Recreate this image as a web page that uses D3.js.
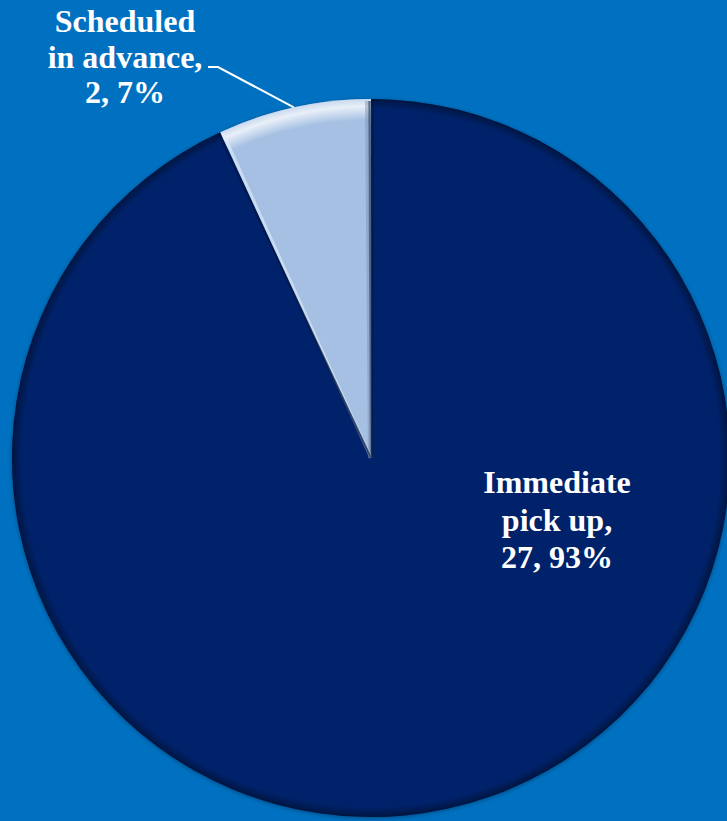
<!DOCTYPE html>
<html>
<head>
<meta charset="utf-8">
<script src="https://cdn.jsdelivr.net/npm/d3@7"></script>
<style>
  html, body { margin: 0; padding: 0; background: #0070C0; }
  svg { display: block; }
</style>
</head>
<body>
<svg id="chart" width="727" height="821"></svg>
<script>
// ---- data ----
const categories = ["Immediate pick up", "Scheduled in advance"];
const values = [27, 2];
const percents = ["93%", "7%"];
const labelLines = [
  ["Immediate", "pick up,", "27, 93%"],
  ["Scheduled", "in advance,", "2, 7%"]
];
const sliceColors = ["#03236A", "#A5C0E3"];

// ---- layout ----
const W = 727, H = 821;
const cx = 371, cy = 458, R = 359;

const svg = d3.select("#chart");
svg.append("rect").attr("width", W).attr("height", H).attr("fill", "#0070C0");

const defs = svg.append("defs");

// rim shading (darker near outer edge)
const rimDark = defs.append("radialGradient").attr("id", "rimDark")
  .attr("cx", 0).attr("cy", 0).attr("r", R).attr("gradientUnits", "userSpaceOnUse");
rimDark.append("stop").attr("offset", 0.972).attr("stop-color", "#000").attr("stop-opacity", 0);
rimDark.append("stop").attr("offset", 0.993).attr("stop-color", "#000").attr("stop-opacity", 0.28);
rimDark.append("stop").attr("offset", 1).attr("stop-color", "#000").attr("stop-opacity", 0.45);

// rim highlight for light slice
const rimLight = defs.append("radialGradient").attr("id", "rimLight")
  .attr("cx", 0).attr("cy", 0).attr("r", R).attr("gradientUnits", "userSpaceOnUse");
rimLight.append("stop").attr("offset", 0.94).attr("stop-color", "#fff").attr("stop-opacity", 0);
rimLight.append("stop").attr("offset", 0.98).attr("stop-color", "#fff").attr("stop-opacity", 0.75);
rimLight.append("stop").attr("offset", 1).attr("stop-color", "#fff").attr("stop-opacity", 0.4);

const shadow = defs.append("filter").attr("id", "shadow")
  .attr("x", "-10%").attr("y", "-10%").attr("width", "120%").attr("height", "120%");
shadow.append("feGaussianBlur").attr("in", "SourceAlpha").attr("stdDeviation", 2).attr("result", "b");
shadow.append("feOffset").attr("in", "b").attr("dx", 0).attr("dy", 1).attr("result", "o");
shadow.append("feComponentTransfer").attr("in", "o").attr("result", "s")
  .append("feFuncA").attr("type", "linear").attr("slope", 0.35);
const mg = shadow.append("feMerge");
mg.append("feMergeNode").attr("in", "s");
mg.append("feMergeNode").attr("in", "SourceGraphic");

const pie = d3.pie().sort(null).value(d => d)(values);
const arc = d3.arc().innerRadius(0).outerRadius(R);

const g = svg.append("g").attr("transform", `translate(${cx},${cy})`);

const slices = g.append("g").attr("filter", "url(#shadow)");
slices.selectAll("path.slice").data(pie).join("path")
  .attr("class", "slice")
  .attr("d", arc)
  .attr("fill", (d, i) => sliceColors[i]);

// rim shading overlay
g.selectAll("path.rimd").data(pie).join("path")
  .attr("class", "rimd")
  .attr("d", arc)
  .attr("fill", (d, i) => i === 0 ? "url(#rimDark)" : "url(#rimLight)");

// bevel edges along radial sides of light slice
const light = pie[1];
function edgePoint(angle, r) {
  return [r * Math.sin(angle), -r * Math.cos(angle)];
}
const eEnd = edgePoint(light.endAngle, R - 2);
g.append("line").attr("x1", 0).attr("y1", 0).attr("x2", eEnd[0] - 1.5).attr("y2", eEnd[1])
  .attr("stroke", "#3b4d6e").attr("stroke-width", 2.5).attr("stroke-opacity", 0.8);
g.append("line").attr("x1", -1.5).attr("y1", 0).attr("x2", eEnd[0] - 4.5).attr("y2", eEnd[1])
  .attr("stroke", "#7a8fb0").attr("stroke-width", 3).attr("stroke-opacity", 0.45);
const eStart = edgePoint(light.startAngle, R - 2);
const nx = Math.cos(light.startAngle) * 2, ny = Math.sin(light.startAngle) * 2;
g.append("line").attr("x1", 0).attr("y1", 0).attr("x2", eStart[0] + nx).attr("y2", eStart[1] + ny)
  .attr("stroke", "#e4eefa").attr("stroke-width", 3).attr("stroke-opacity", 0.6);
g.append("line").attr("x1", 0).attr("y1", 0).attr("x2", eStart[0] - nx).attr("y2", eStart[1] - ny)
  .attr("stroke", "#01153f").attr("stroke-width", 2).attr("stroke-opacity", 0.7);
g.append("line").attr("x1", 1).attr("y1", 0).attr("x2", eEnd[0] + 2).attr("y2", eEnd[1])
  .attr("stroke", "#01153f").attr("stroke-width", 2).attr("stroke-opacity", 0.5);

// ---- labels ----
const font = "'Liberation Serif', 'Times New Roman', serif";
function drawLabel(lines, x, y0, lh) {
  const t = svg.append("text")
    .attr("text-anchor", "middle")
    .attr("font-family", font)
    .attr("font-weight", "bold")
    .attr("font-size", 32)
    .attr("fill", "#fff");
  lines.forEach((s, i) => {
    t.append("tspan").attr("x", x).attr("y", y0 + i * lh).text(s);
  });
}
drawLabel(labelLines[0], cx + 186, 493, 37.5);
drawLabel(labelLines[1], 125, 32, 35.5);

// leader line for small slice
const mid = (light.startAngle + light.endAngle) / 2;
const p0 = edgePoint(mid, R);
svg.append("polyline")
  .attr("points", [[cx + p0[0], cy + p0[1]], [218, 67], [208, 67]].map(p => p.join(",")).join(" "))
  .attr("fill", "none").attr("stroke", "#fff").attr("stroke-width", 2);
</script>
</body>
</html>
